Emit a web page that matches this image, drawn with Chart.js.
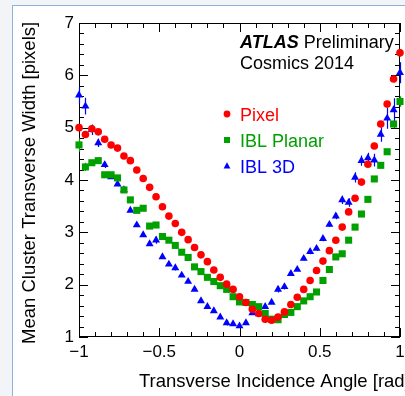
<!DOCTYPE html>
<html>
<head>
<meta charset="utf-8">
<script src="https://cdn.jsdelivr.net/npm/chart.js@4.4.0/dist/chart.umd.min.js"></script>
<style>
  html, body { margin: 0; padding: 0; background: #f2f4f7; overflow: hidden; }
  #sheet { position: absolute; left: 12px; top: 5px; width: 430px; height: 400px; background: #fff;
           border-left: 1px solid #8db0de; border-top: 1px solid #8db0de; }
  #wrap { position: absolute; left: 0; top: 0; width: 425px; height: 396px; }
</style>
</head>
<body>
<div id="sheet"></div>
<div id="wrap"><canvas id="myChart"></canvas></div>
<script>
// transverse incidence angle [rad], bin centres
const angles = [-1, -0.96, -0.92, -0.88, -0.84, -0.8, -0.76, -0.72, -0.68, -0.64, -0.6, -0.56, -0.52,
  -0.48, -0.44, -0.4, -0.36, -0.32, -0.28, -0.24, -0.2, -0.16, -0.12, -0.08, -0.04, 0,
  0.04, 0.08, 0.12, 0.16, 0.2, 0.24, 0.28, 0.32, 0.36, 0.4, 0.44, 0.48, 0.52, 0.56, 0.6,
  0.64, 0.68, 0.72, 0.76, 0.8, 0.84, 0.88, 0.92, 0.96, 1]

const pixel = [5.00, 4.87, 4.98, 4.92, 4.78, 4.67, 4.61, 4.46, 4.37, 4.19, 4.03, 3.86, 3.68,
  3.49, 3.31, 3.17, 3.00, 2.86, 2.71, 2.57, 2.44, 2.28, 2.14, 2.01, 1.91, 1.77,
  1.66, 1.53, 1.45, 1.34, 1.32, 1.38, 1.48, 1.62, 1.76, 1.91, 2.08, 2.27, 2.45, 2.65, 2.85,
  3.10, 3.39, 3.65, 3.96, 4.30, 4.65, 5.07, 5.45, 5.93, 6.43]

const iblPlanar = [4.67, 4.25, 4.33, 4.37, 4.10, 4.10, 4.04, 3.81, 3.62, 3.42, 3.46, 3.12, 3.14,
  2.92, 2.85, 2.75, 2.62, 2.52, 2.34, 2.25, 2.14, 2.06, 1.98, 1.91, 1.77, 1.67,
  1.66, 1.62, 1.58, 1.45, 1.34, 1.33, 1.43, 1.47, 1.58, 1.69, 1.77, 1.86, 2.08, 2.29, 2.53,
  2.59, 2.85, 3.10, 3.35, 3.63, 4.02, 4.28, 4.54, 5.07, 5.50]

const ibl3D = [5.62, 5.41, 4.96, 4.71, 4.29, 4.06, 3.92, 3.81, 3.42, 3.14, 2.95, 2.78, 2.85,
  2.53, 2.39, 2.32, 2.18, 2.06, 1.91, 1.69, 1.58, 1.50, 1.38, 1.27, 1.25, 1.21,
  1.27, 1.46, 1.44, 1.58, 1.66, 1.91, 1.96, 2.21, 2.29, 2.50, 2.63, 2.69, 2.88, 3.15, 3.31,
  3.62, 3.57, 4.05, 4.37, 4.42, 4.38, 4.87, 5.18, 5.34, 6.05]

// statistical errors (half length of the vertical bar)
const pixelErr = [0.03, 0.03, 0.03, 0.02, 0.02, 0.02, 0.02, 0.02, 0.02, 0.02, 0.02, 0.02, 0.02,
  0.02, 0.02, 0.02, 0.02, 0.02, 0.02, 0.02, 0.02, 0.02, 0.02, 0.02, 0.02, 0.02,
  0.02, 0.02, 0.02, 0.02, 0.02, 0.02, 0.02, 0.02, 0.02, 0.02, 0.02, 0.02, 0.02, 0.02, 0.02,
  0.02, 0.03, 0.03, 0.03, 0.03, 0.04, 0.04, 0.05, 0.06, 0.07]

const iblPlanarErr = [0.13, 0.08, 0.05, 0.05, 0.04, 0.03, 0.03, 0.03, 0.03, 0.03, 0.03, 0.03, 0.03,
  0.02, 0.02, 0.02, 0.02, 0.02, 0.02, 0.02, 0.02, 0.02, 0.02, 0.02, 0.02, 0.02,
  0.02, 0.02, 0.02, 0.02, 0.02, 0.02, 0.02, 0.02, 0.02, 0.02, 0.02, 0.02, 0.02, 0.03, 0.03,
  0.03, 0.03, 0.03, 0.03, 0.04, 0.04, 0.05, 0.05, 0.08, 0.10]

const ibl3DErr = [0.16, 0.16, 0.10, 0.08, 0.06, 0.04, 0.04, 0.05, 0.03, 0.03, 0.03, 0.03, 0.07,
  0.03, 0.03, 0.05, 0.03, 0.03, 0.03, 0.03, 0.03, 0.03, 0.03, 0.05, 0.03, 0.03,
  0.03, 0.03, 0.03, 0.03, 0.03, 0.06, 0.05, 0.03, 0.03, 0.04, 0.05, 0.04, 0.05, 0.05, 0.06,
  0.08, 0.08, 0.10, 0.10, 0.10, 0.12, 0.14, 0.20, 0.22, 0.20]

const xTicks = [-1, -0.5, 0, 0.5, 1]
const xTickLabels = ['\u22121', '\u22120.5', '0', '0.5', '1']
const yTicks = [1, 2, 3, 4, 5, 6, 7]
const yTickLabels = ['1', '2', '3', '4', '5', '6', '7']

const xTitle = 'Transverse Incidence Angle [rad]'
const yTitle = 'Mean Cluster Transverse Width [pixels]'

const errors = [pixelErr, iblPlanarErr, ibl3DErr]

const FONT = '"Liberation Sans", Arial, sans-serif'
Chart.defaults.font.family = FONT
Chart.defaults.color = '#000'

function points(values) {
  return angles.map((a, i) => ({ x: a, y: values[i] }))
}

function marker(ctx, style, x, y, r) {
  ctx.beginPath()
  if (style === 'circle') {
    ctx.arc(x, y, r, 0, Math.PI * 2)
  } else if (style === 'rect') {
    ctx.rect(x - r, y - r, 2 * r, 2 * r)
  } else {
    ctx.moveTo(x, y - r * 1.1)
    ctx.lineTo(x + r, y + r * 0.7)
    ctx.lineTo(x - r, y + r * 0.7)
    ctx.closePath()
  }
  ctx.fill()
}

// ROOT-like frame: box with inward ticks on all four sides, error bars, legend and labels
const rootStyle = {
  id: 'rootStyle',
  beforeDatasetsDraw(chart) {
    const { ctx, chartArea: a, scales: { x, y } } = chart
    ctx.save()
    ctx.strokeStyle = '#000'
    ctx.lineWidth = 1
    ctx.strokeRect(a.left + 0.5, a.top + 0.5, a.right - a.left - 1, a.bottom - a.top - 1)
    ctx.beginPath()
    for (let i = -10; i <= 10; i++) {
      const px = Math.round(x.getPixelForValue(i / 10)) + 0.5
      const len = i % 5 === 0 ? 9 : 5
      ctx.moveTo(px, a.bottom); ctx.lineTo(px, a.bottom - len)
      ctx.moveTo(px, a.top); ctx.lineTo(px, a.top + len)
    }
    for (let i = 5; i <= 35; i++) {
      const py = Math.round(y.getPixelForValue(i / 5)) + 0.5
      const len = i % 5 === 0 ? 9 : 5
      ctx.moveTo(a.left, py); ctx.lineTo(a.left + len, py)
      ctx.moveTo(a.right, py); ctx.lineTo(a.right - len, py)
    }
    ctx.stroke()

    chart.data.datasets.forEach((ds, k) => {
      ctx.strokeStyle = ds.borderColor
      ctx.lineWidth = 1.2
      ctx.beginPath()
      ds.data.forEach((p, i) => {
        const px = Math.round(x.getPixelForValue(p.x)) + 0.5
        ctx.moveTo(px, y.getPixelForValue(p.y - errors[k][i]))
        ctx.lineTo(px, y.getPixelForValue(p.y + errors[k][i]))
      })
      ctx.stroke()
    })
    ctx.restore()
  },
  afterDraw(chart) {
    const { ctx, chartArea: a } = chart
    const tx = a.left + 161
    ctx.save()
    ctx.textBaseline = 'alphabetic'
    ctx.fillStyle = '#000'

    // axis titles, ROOT style: aligned to the far end of each axis
    ctx.font = '18.5px ' + FONT
    ctx.fillText(xTitle, a.left + 60, a.bottom + 50)
    ctx.save()
    ctx.translate(a.left - 44, a.bottom + 7)
    ctx.rotate(-Math.PI / 2)
    ctx.fillText(yTitle, 0, 0)
    ctx.restore()

    ctx.font = 'italic bold 18px ' + FONT
    ctx.fillText('ATLAS', tx, a.top + 25)
    const w = ctx.measureText('ATLAS').width
    ctx.font = '18px ' + FONT
    ctx.fillText('Preliminary', tx + w + 5, a.top + 25)
    ctx.fillText('Cosmics 2014', tx, a.top + 46)

    chart.data.datasets.forEach((ds, k) => {
      const cy = a.top + 91 + k * 26
      ctx.fillStyle = ds.backgroundColor
      marker(ctx, ds.pointStyle, tx - 13, cy, ds.pointStyle === 'rect' ? 3 : 3.4)
      ctx.fillText(ds.label, tx, cy + 7)
    })
    ctx.restore()
  }
}

const ctx = document.getElementById('myChart')

new Chart(ctx, {
  type: 'scatter',
  data: {
    datasets: [
      {
        label: 'Pixel',
        data: points(pixel),
        pointStyle: 'circle',
        pointRadius: 3.8,
        backgroundColor: '#ff0000',
        borderColor: '#ff0000',
        borderWidth: 0,
        clip: false
      },
      {
        label: 'IBL Planar',
        data: points(iblPlanar),
        pointStyle: 'rect',
        pointRadius: 5,
        backgroundColor: '#00a000',
        borderColor: '#00a000',
        borderWidth: 0,
        clip: false
      },
      {
        label: 'IBL 3D',
        data: points(ibl3D),
        pointStyle: 'triangle',
        pointRadius: 4.6,
        backgroundColor: '#0000ff',
        borderColor: '#0000ff',
        borderWidth: 0,
        clip: false
      }
    ]
  },
  options: {
    responsive: true,
    maintainAspectRatio: false,
    animation: false,
    layout: { padding: { left: 0, top: 23, right: 25, bottom: 0 } },
    plugins: {
      legend: { display: false },
      tooltip: { enabled: false }
    },
    scales: {
      x: {
        type: 'linear',
        min: -1,
        max: 1,
        grid: { display: false, drawTicks: false },
        border: { display: false },
        afterBuildTicks: s => { s.ticks = xTicks.map(v => ({ value: v })) },
        afterFit: s => { s.height = 59 },
        ticks: {
          autoSkip: false,
          maxRotation: 0,
          padding: 5,
          font: { size: 17 },
          callback: (v, i) => xTickLabels[i]
        }
      },
      y: {
        type: 'linear',
        min: 1,
        max: 7,
        grid: { display: false, drawTicks: false },
        border: { display: false },
        afterBuildTicks: s => { s.ticks = yTicks.map(v => ({ value: v })) },
        afterFit: s => { s.width = 79 },
        ticks: {
          autoSkip: false,
          padding: 5,
          font: { size: 17 },
          callback: (v, i) => yTickLabels[i]
        }
      }
    }
  },
  plugins: [rootStyle]
})
</script>
</body>
</html>
